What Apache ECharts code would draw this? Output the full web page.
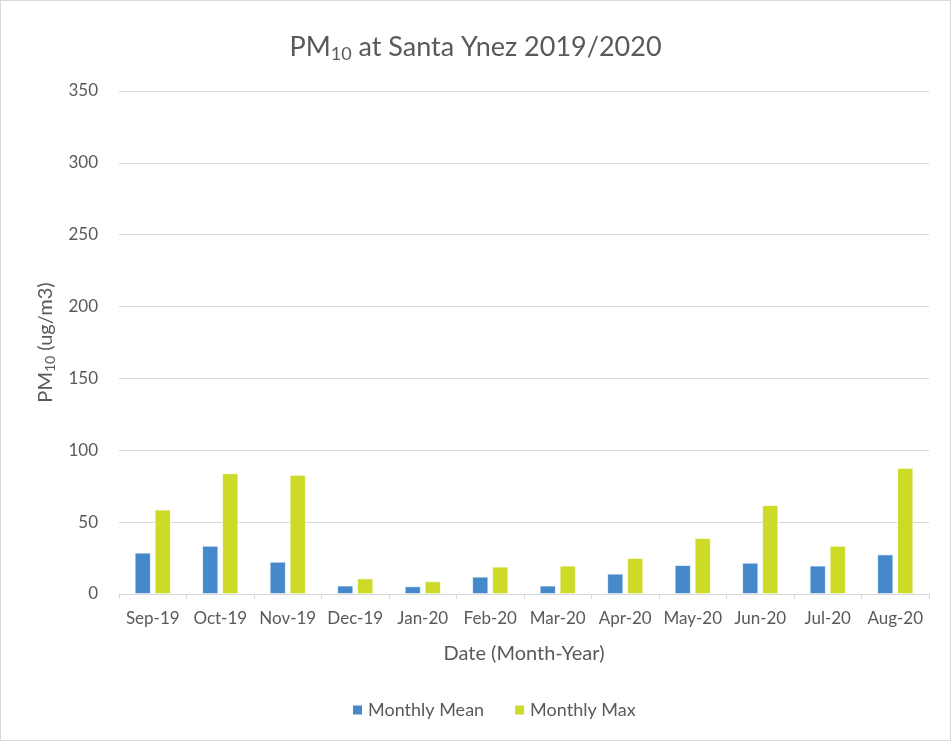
<!DOCTYPE html>
<html><head><meta charset="utf-8">
<script src="https://cdn.jsdelivr.net/npm/echarts@6/dist/echarts.min.js"></script>
<style>html,body{margin:0;padding:0;background:#fff}#c{width:951px;height:741px;box-sizing:border-box;border:1px solid #d9d9d9}</style>
</head><body><div id="c"></div>
<script>
const categories = ['Sep-19','Oct-19','Nov-19','Dec-19','Jan-20','Feb-20','Mar-20','Apr-20','May-20','Jun-20','Jul-20','Aug-20'];
const monthlyMean = [28.7, 33.5, 22.4, 5.8, 5.3, 12.0, 5.8, 14.1, 20.1, 21.7, 19.7, 27.5];
const monthlyMax = [58.7, 84.0, 82.8, 10.8, 8.8, 19.0, 19.7, 25.0, 38.9, 61.8, 33.5, 87.7];
const yTicks = [0, 50, 100, 150, 200, 250, 300, 350];

const FONT = 'Lato';
const chart = echarts.init(document.getElementById('c'));
chart.setOption({
  animation: false,
  textStyle: { fontFamily: FONT },
  title: {
    text: '{a|PM}{b|10}{a| at Santa Ynez 2019/2020}',
    left: 'center', top: 24,
    textStyle: {
      fontWeight: 'normal',
      rich: {
        a: { fontFamily: FONT, fontSize: 27, fontWeight: 'normal', color: '#595959', lineHeight: 34 },
        b: { fontFamily: FONT, fontSize: 18, fontWeight: 'normal', color: '#595959', lineHeight: 34, padding: [14, 0, 0, 0] }
      }
    }
  },
  grid: { left: 118, right: 21, top: 90, bottom: 146, containLabel: false },
  legend: {
    bottom: 16, left: 345, itemWidth: 11, itemHeight: 11, itemGap: 29,
    icon: 'rect',
    textStyle: { fontFamily: FONT, fontSize: 18, color: '#595959' },
    data: ['Monthly Mean', 'Monthly Max']
  },
  xAxis: {
    type: 'category', data: categories,
    name: 'Date (Month-Year)', nameLocation: 'middle', nameGap: 50,
    nameTextStyle: { fontFamily: FONT, fontSize: 20, color: '#595959' },
    axisLine: { lineStyle: { color: '#d9d9d9', width: 1 } },
    axisTick: { show: true, length: 5, lineStyle: { color: '#d9d9d9' } },
    axisLabel: { fontFamily: FONT, fontSize: 17, color: '#595959', margin: 16, interval: 0 }
  },
  yAxis: {
    type: 'value', min: yTicks[0], max: yTicks[yTicks.length - 1], interval: 50,
    name: '{a|PM}{b|10}{a| (ug/m3)}', nameLocation: 'middle', nameGap: 60, nameRotate: 90,
    nameTextStyle: {
      rich: {
        a: { fontFamily: FONT, fontSize: 20, color: '#595959', lineHeight: 24 },
        b: { fontFamily: FONT, fontSize: 14, color: '#595959', lineHeight: 24, padding: [10, 0, 0, 0] }
      }
    },
    axisLine: { show: false }, axisTick: { show: false },
    axisLabel: { fontFamily: FONT, fontSize: 17, color: '#595959', margin: 21 },
    splitLine: { lineStyle: { color: '#d9d9d9', width: 1 } }
  },
  series: [
    { name: 'Monthly Mean', type: 'bar', data: monthlyMean, barWidth: 16, barGap: '25%',
      itemStyle: { color: '#4589CB', borderColor: '#ffffff', borderWidth: 0.7 } },
    { name: 'Monthly Max', type: 'bar', data: monthlyMax, barWidth: 16, barGap: '25%',
      itemStyle: { color: '#CDDA28', borderColor: '#ffffff', borderWidth: 0.7 } }
  ]
});
</script></body></html>
